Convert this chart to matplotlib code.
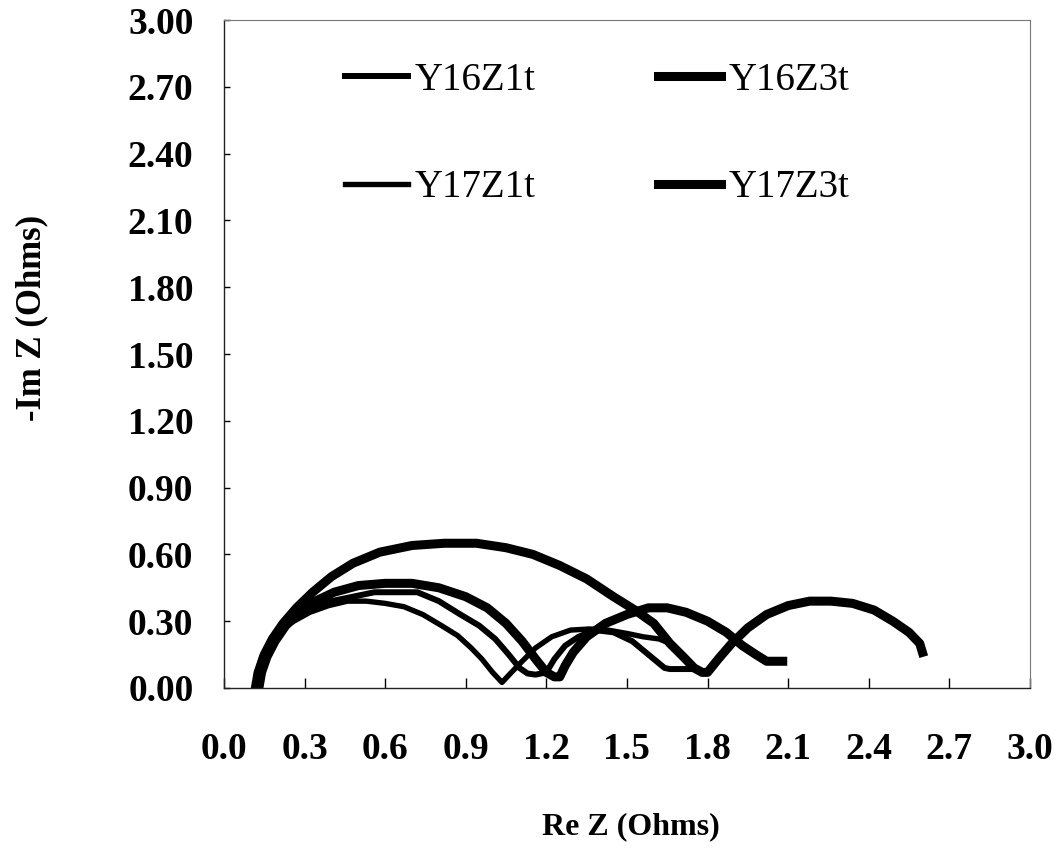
import matplotlib
matplotlib.use('Agg')
import matplotlib.pyplot as plt

# =====================================================
# DATA  (Nyquist arcs)
# =====================================================

y16z1t_re = [0.12, 0.13, 0.15, 0.18, 0.22, 0.27, 0.33, 0.40, 0.48, 0.56, 0.64, 0.72,
             0.80, 0.88, 0.95, 1.01, 1.06, 1.10, 1.13, 1.16, 1.20, 1.23, 1.27, 1.32,
             1.38, 1.45, 1.52, 1.57, 1.61, 1.64, 1.66, 1.70, 1.74]
y16z1t_im = [0.00, 0.07, 0.14, 0.21, 0.27, 0.32, 0.36, 0.39, 0.41, 0.43, 0.43, 0.43,
             0.39, 0.33, 0.28, 0.22, 0.15, 0.09, 0.065, 0.06, 0.07, 0.13, 0.19, 0.23,
             0.26, 0.25, 0.21, 0.16, 0.12, 0.09, 0.085, 0.085, 0.085]

y16z3t_re = [0.13, 0.14, 0.16, 0.19, 0.23, 0.28, 0.34, 0.41, 0.50, 0.60, 0.70, 0.80,
             0.90, 0.98, 1.05, 1.11, 1.16, 1.20, 1.23, 1.25, 1.27, 1.30, 1.35, 1.42,
             1.50, 1.58, 1.65, 1.72, 1.80, 1.87, 1.93, 1.98, 2.02, 2.05, 2.08]
y16z3t_im = [0.00, 0.07, 0.14, 0.21, 0.28, 0.34, 0.39, 0.43, 0.46, 0.47, 0.47, 0.45,
             0.41, 0.36, 0.29, 0.21, 0.13, 0.07, 0.05, 0.05, 0.10, 0.16, 0.23, 0.29,
             0.33, 0.36, 0.36, 0.34, 0.30, 0.25, 0.19, 0.15, 0.12, 0.12, 0.12]

y17z1t_re = [0.11, 0.12, 0.14, 0.17, 0.21, 0.26, 0.32, 0.39, 0.46, 0.53, 0.60, 0.67,
             0.74, 0.81, 0.87, 0.92, 0.96, 1.00, 1.035, 1.07, 1.11, 1.16, 1.22, 1.29,
             1.36, 1.43, 1.50, 1.56, 1.62, 1.66]
y17z1t_im = [0.00, 0.07, 0.14, 0.20, 0.26, 0.30, 0.34, 0.37, 0.39, 0.39, 0.38, 0.365,
             0.33, 0.28, 0.235, 0.18, 0.13, 0.07, 0.025, 0.07, 0.12, 0.18, 0.23, 0.26,
             0.265, 0.26, 0.245, 0.23, 0.22, 0.20]

y17z3t_re = [0.12, 0.13, 0.15, 0.18, 0.22, 0.27, 0.33, 0.40, 0.48, 0.58, 0.70, 0.82,
             0.94, 1.05, 1.15, 1.25, 1.35, 1.45, 1.53, 1.60, 1.66, 1.71, 1.75, 1.78,
             1.80, 1.84, 1.89, 1.95, 2.02, 2.10, 2.18, 2.26, 2.34, 2.42, 2.49, 2.55,
             2.59, 2.60]
y17z3t_im = [0.00, 0.07, 0.15, 0.22, 0.29, 0.36, 0.43, 0.50, 0.56, 0.61, 0.64, 0.65,
             0.65, 0.63, 0.60, 0.55, 0.49, 0.41, 0.35, 0.29, 0.20, 0.14, 0.09, 0.07,
             0.07, 0.13, 0.20, 0.27, 0.33, 0.37, 0.39, 0.39, 0.38, 0.35, 0.30, 0.25,
             0.20, 0.16]

x_ticks = [0.0, 0.3, 0.6, 0.9, 1.2, 1.5, 1.8, 2.1, 2.4, 2.7, 3.0]
y_ticks = [0.00, 0.30, 0.60, 0.90, 1.20, 1.50, 1.80, 2.10, 2.40, 2.70, 3.00]

# =====================================================
# PLOT
# =====================================================

plt.rcParams['font.family'] = ['Liberation Serif', 'DejaVu Serif']

fig = plt.figure(figsize=(10.59, 8.63), dpi=100)
ax = fig.add_axes([0.2115, 0.2028, 0.761, 0.774])

thin = 4.3
thick = 6.5

l1, = ax.plot(y16z1t_re, y16z1t_im, color='black', lw=thin, label='Y16Z1t',
              solid_joinstyle='round')
l2, = ax.plot(y16z3t_re, y16z3t_im, color='black', lw=thick, label='Y16Z3t',
              solid_joinstyle='round')
l3, = ax.plot(y17z1t_re, y17z1t_im, color='black', lw=thin * 0.9, label='Y17Z1t',
              solid_joinstyle='round')
l4, = ax.plot(y17z3t_re, y17z3t_im, color='black', lw=thick, label='Y17Z3t',
              solid_joinstyle='round')

ax.set_xlim(0, 3.0)
ax.set_ylim(0, 3.0)

ax.set_xticks(x_ticks)
ax.set_xticklabels([f'{v:.1f}' for v in x_ticks])
ax.set_yticks(y_ticks)
ax.set_yticklabels([f'{v:.2f}' for v in y_ticks])

for lab in ax.get_xticklabels() + ax.get_yticklabels():
    lab.set_fontweight('bold')
    lab.set_fontsize(27)

ax.tick_params(axis='x', direction='in', length=7, width=1, pad=32)
ax.tick_params(axis='y', direction='in', length=4, width=1, pad=22)

for side in ['left', 'bottom']:
    ax.spines[side].set_linewidth(1.0)
    ax.spines[side].set_color('#222222')
for side in ['top', 'right']:
    ax.spines[side].set_linewidth(0.8)
    ax.spines[side].set_color('#777777')

fig.text(0.596, 0.042, 'Re Z (Ohms)', ha='center', va='center',
         fontsize=23, fontweight='bold')
fig.text(0.030, 0.632, '-Im Z (Ohms)', ha='center', va='center',
         rotation=90, fontsize=25, fontweight='bold')

# legend filled column-wise: Z1t entries on the left, Z3t on the right
leg = ax.legend([l1, l3, l2, l4], ['Y16Z1t', 'Y17Z1t', 'Y16Z3t', 'Y17Z3t'],
                ncol=2, loc='upper left', bbox_to_anchor=(0.150, 0.937),
                frameon=False, fontsize=28, handlelength=1.62,
                handletextpad=0.18, columnspacing=3.15, labelspacing=1.81,
                borderpad=0, borderaxespad=0)

plt.savefig('out.png', dpi=100)
plt.close()
